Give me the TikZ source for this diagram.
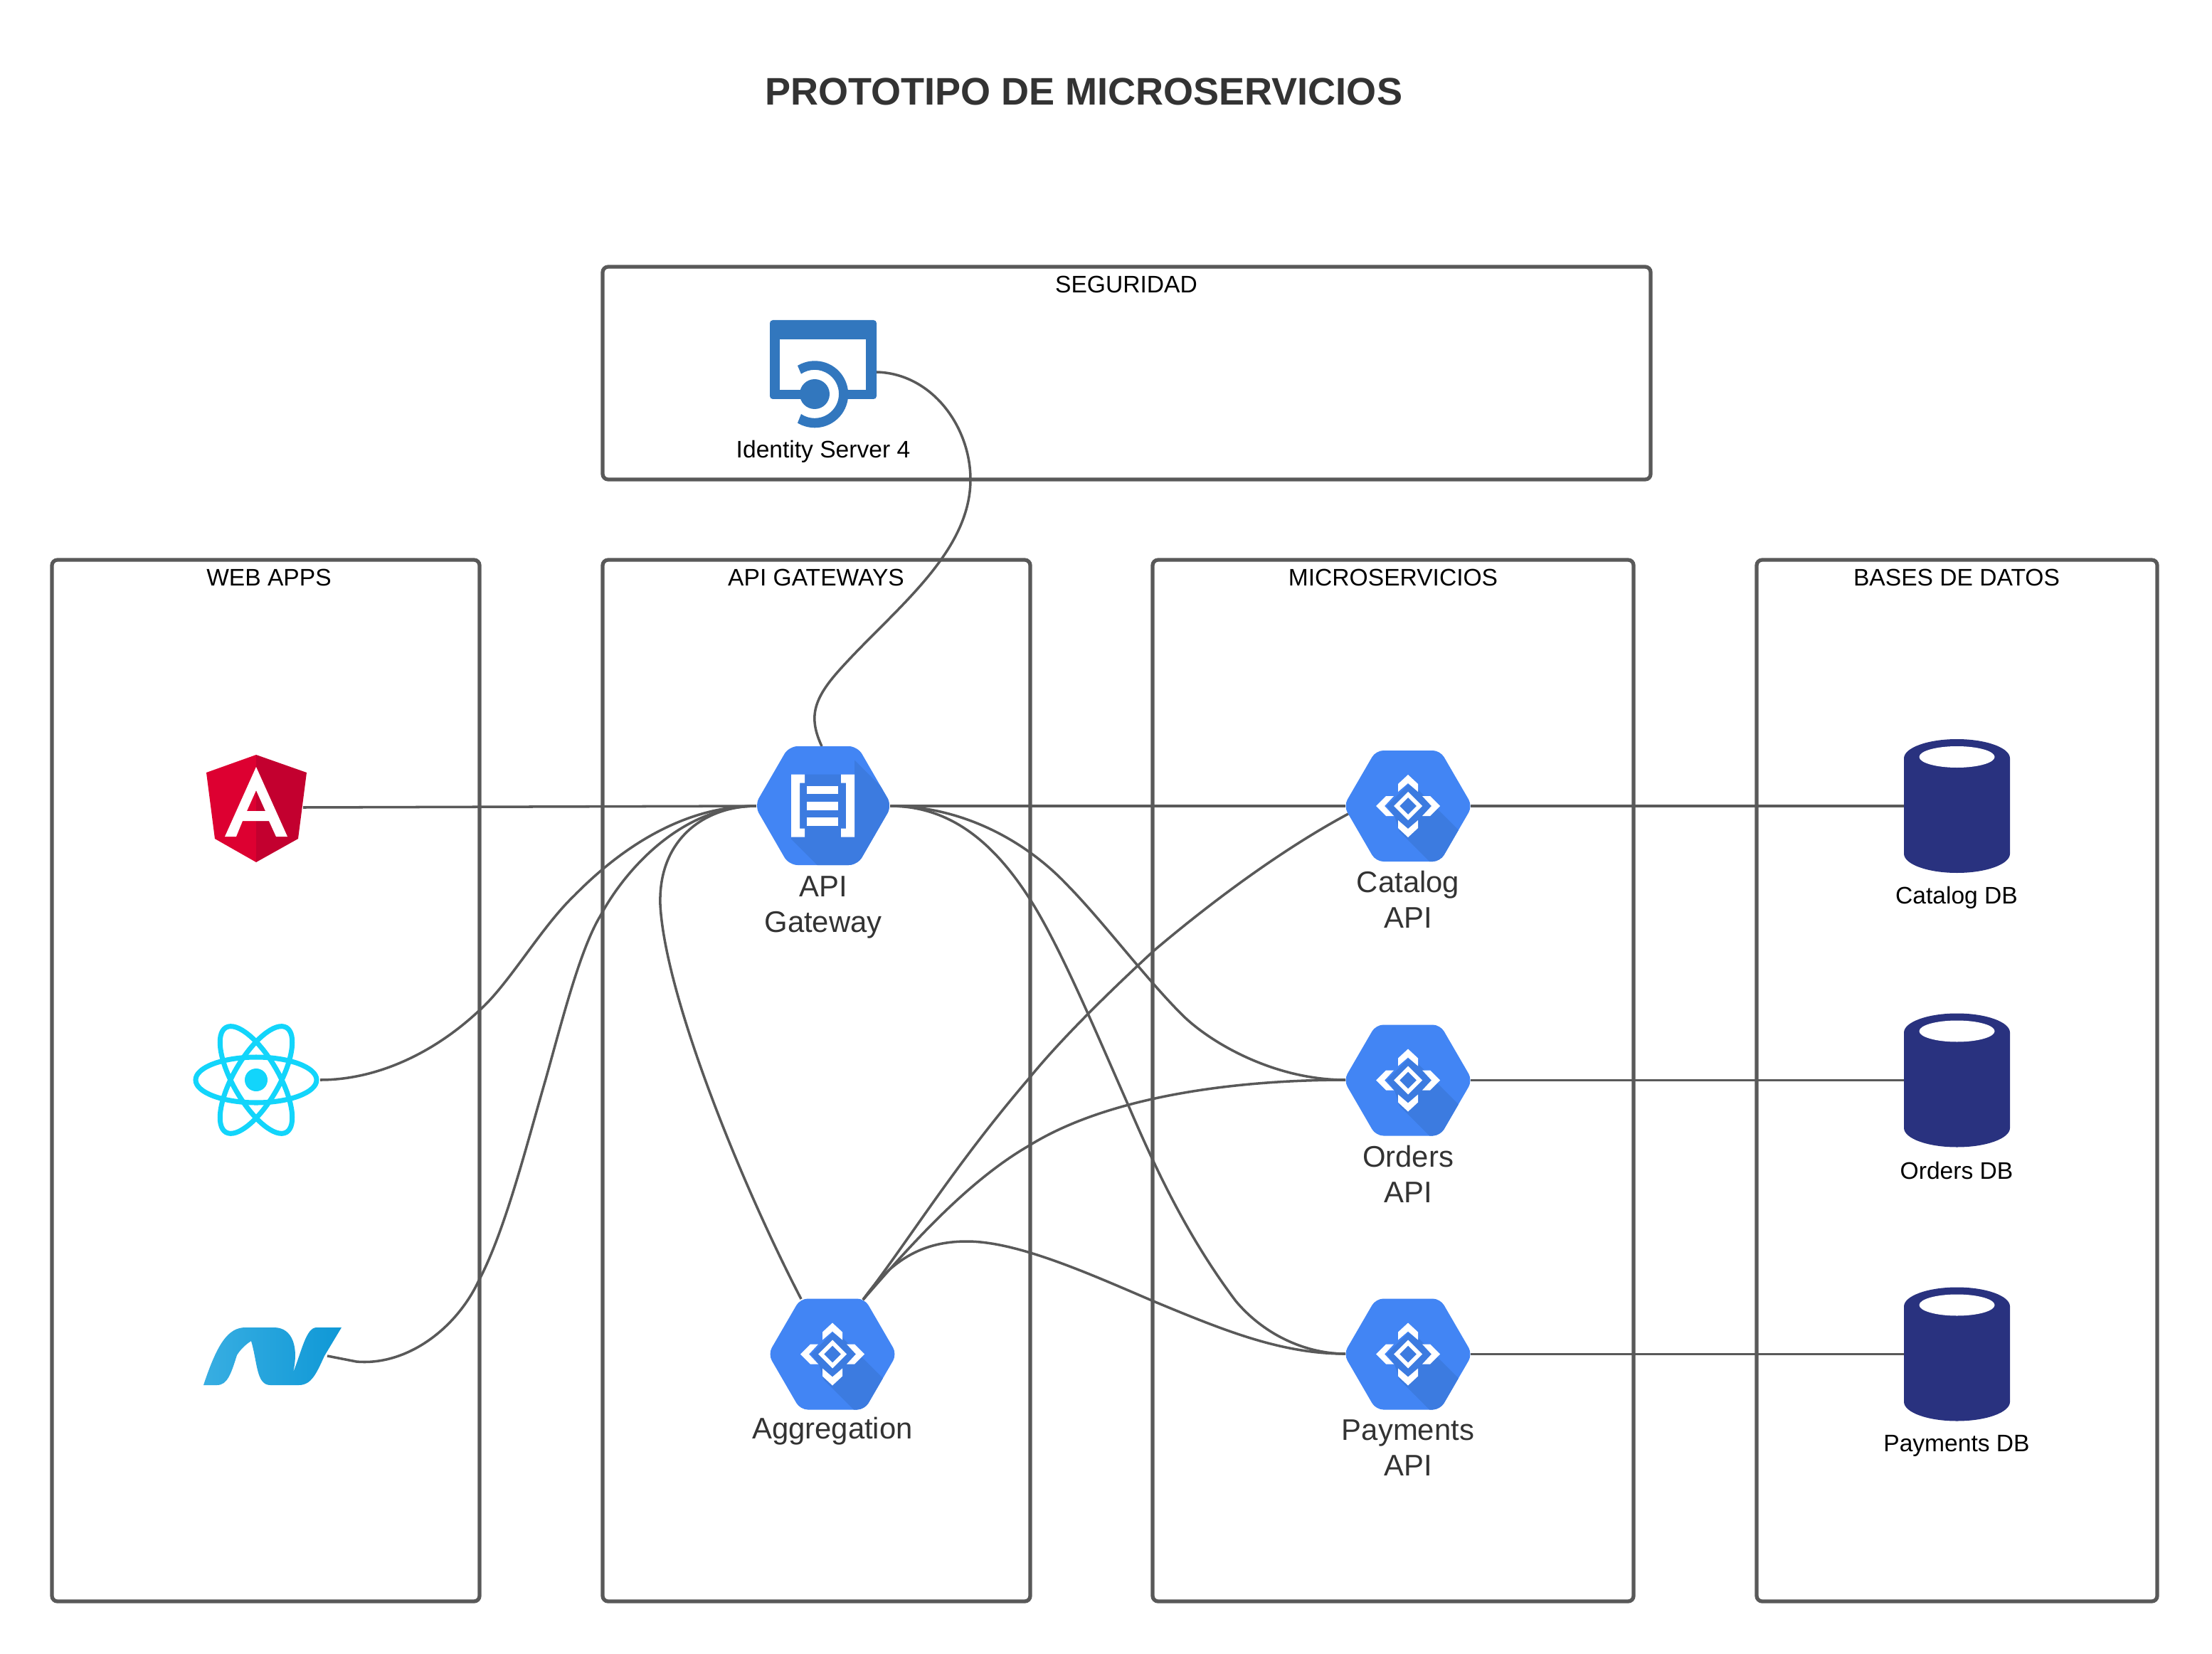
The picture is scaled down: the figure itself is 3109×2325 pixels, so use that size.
\documentclass[tikz,border=0pt]{standalone}
\usepackage{fontspec}
\setmainfont{Liberation Sans}
\definecolor{linegray}{HTML}{595959}
\definecolor{hexblue}{HTML}{4285F4}
\definecolor{hexdark}{HTML}{3C7BE0}
\definecolor{dbnavy}{HTML}{29327F}
\definecolor{idblue}{HTML}{3277BE}
\definecolor{ngred}{HTML}{DD0031}
\definecolor{ngdark}{HTML}{C3002F}
\definecolor{reactcy}{HTML}{12D5FB}
\definecolor{netlight}{HTML}{38AEE2}
\definecolor{netdark}{HTML}{0F98D6}
\definecolor{txtgray}{HTML}{333333}
\tikzset{
  groupbox/.style={draw=linegray,line width=1.5pt,rounded corners=2.2pt},
  grouplabel/.style={font=\fontsize{9.55}{11}\selectfont,text=black,inner sep=0pt},
  svclabel/.style={font=\fontsize{11.9}{14.2}\selectfont,text=txtgray,align=center,inner sep=0pt},
  dblabel/.style={font=\fontsize{9.55}{11}\selectfont,text=black,inner sep=0pt},
  link/.style={draw=linegray,line width=1pt},
}
\newcommand{\hexshape}[2]{(-#1,0) -- (-#1/2,-#2) -- (#1/2,-#2) -- (#1,0) -- (#1/2,#2) -- (-#1/2,#2) -- cycle}
% name, x, y : hexagon with the diamond-and-chevrons icon
\newcommand{\svchex}[3]{%
  \node[inner sep=0pt,outer sep=0pt,minimum width=1.76cm,minimum height=1.55cm] (#1) at (#2,#3) {};
  \begin{scope}[shift={(#2,#3)}]
    \fill[hexblue,rounded corners=3pt] \hexshape{90.5}{78};
    \begin{scope}
      \clip[rounded corners=3pt] \hexshape{90.5}{78};
      \fill[hexdark] (14,-23) -- (134,97) -- (108,156) -- (-12,36) -- (-19,14) -- (-30,0) -- (0,-30) -- cycle;
    \end{scope}
    \fill[white] (0,-44) -- (14,-31) -- (14,-20) -- (0,-32) -- (-14,-20) -- (-14,-31) -- cycle;
    \fill[white] (0,44) -- (14,31) -- (14,20) -- (0,32) -- (-14,20) -- (-14,31) -- cycle;
    \fill[white] (-45,0) -- (-31,-14) -- (-20,-14) -- (-33,0) -- (-20,14) -- (-31,14) -- cycle;
    \fill[white] (45,0) -- (31,-14) -- (20,-14) -- (33,0) -- (20,14) -- (31,14) -- cycle;
    \fill[white,even odd rule] (-20,0) -- (0,-20) -- (20,0) -- (0,20) -- cycle (-12,0) -- (0,-12) -- (12,0) -- (0,12) -- cycle;
  \end{scope}}
% name, y : database cylinder
\newcommand{\dbcyl}[2]{%
  \node[inner sep=0pt,outer sep=0pt,minimum width=1.49cm,minimum height=1.88cm] (#1) at (2750.5,#2) {};
  \begin{scope}[shift={(2750.5,#2)}]
    \fill[dbnavy] (-74.5,-67) arc[start angle=180,end angle=0,x radius=74.5,y radius=-27]
      -- (74.5,67) arc[start angle=0,end angle=-180,x radius=74.5,y radius=-27] -- cycle;
    \fill[white] (0,-69) ellipse[x radius=53,y radius=15];
  \end{scope}}
\begin{document}
\begin{tikzpicture}[x=0.01cm,y=-0.01cm]
\useasboundingbox (0,0) rectangle (3109,2325);
\fill[white] (0,0) rectangle (3109,2325);

\node[font=\bfseries\fontsize{15.37}{18}\selectfont,text=txtgray,inner sep=0pt] (title) at (1523,128.5) {PROTOTIPO DE MICROSERVICIOS};

% group frames
\draw[groupbox] (847,375) rectangle (2320,674);
\draw[groupbox] (73,787) rectangle (674,2251);
\draw[groupbox] (847,787) rectangle (1448,2251);
\draw[groupbox] (1620,787) rectangle (2296,2251);
\draw[groupbox] (2469,787) rectangle (3032,2251);
\node[grouplabel] (lsec) at (1583,399.5) {SEGURIDAD};
\node[grouplabel] (lweb) at (378,811.5) {WEB APPS};
\node[grouplabel] (lapi) at (1147,811.5) {API GATEWAYS};
\node[grouplabel] (lms) at (1958,811.5) {MICROSERVICIOS};
\node[grouplabel] (ldb) at (2750,811.5) {BASES DE DATOS};

% anchors of the icons
\node[inner sep=0pt,outer sep=0pt,minimum width=1.88cm,minimum height=1.67cm] (gateway) at (1157,1133) {};
\coordinate (idout) at (1232,523);
\coordinate (gwtop) at (1155,1049);
\coordinate (ngout) at (426,1135);
\coordinate (reactout) at (450,1518);
\coordinate (netout) at (460,1906);
\coordinate (agtopl) at (1126,1826);
\coordinate (agtopr) at (1213,1827);
\coordinate (catin) at (1895,1144);
\coordinate (catw) at (1891,1133);
\coordinate (ordw) at (1891,1518);
\coordinate (payw) at (1891,1903);

% connectors
\draw[link] (idout) .. controls (1310,525) and (1364,600) .. (1364,674)
  .. controls (1364,780) and (1252,860) .. (1177,945)
  .. controls (1142,985) and (1137,1010) .. (gwtop);
\draw[link] (ngout) -- (gateway.west);
\draw[link] (reactout) .. controls (530,1518) and (610,1480) .. (673,1421)
  .. controls (715,1384) and (760,1304) .. (807,1259)
  .. controls (860,1205) and (950,1133) .. (gateway.west);
\draw[link] (netout) -- (501,1914) .. controls (570,1920) and (640,1870) .. (673,1800)
  .. controls (710,1730) and (740,1610) .. (767,1517)
  .. controls (790,1435) and (815,1335) .. (844,1287)
  .. controls (880,1220) and (960,1133) .. (gateway.west);
\draw[link] (agtopl) .. controls (1040,1660) and (935,1400) .. (928,1272)
  .. controls (925,1180) and (990,1133) .. (gateway.west);
\draw[link] (gateway.east) -- (catw);
\draw[link] (gateway.east) .. controls (1350,1133) and (1440,1180) .. (1501,1245)
  .. controls (1550,1295) and (1610,1375) .. (1661,1426)
  .. controls (1700,1465) and (1790,1518) .. (ordw);
\draw[link] (gateway.east) .. controls (1340,1133) and (1400,1190) .. (1447,1263)
  .. controls (1490,1330) and (1540,1450) .. (1586,1554)
  .. controls (1625,1645) and (1670,1740) .. (1737,1829)
  .. controls (1780,1880) and (1840,1903) .. (payw);
\draw[link] (agtopr) .. controls (1280,1740) and (1340,1640) .. (1447,1515)
  .. controls (1500,1450) and (1580,1375) .. (1621,1337)
  .. controls (1700,1270) and (1800,1195) .. (catin);
\draw[link] (agtopr) .. controls (1280,1750) and (1360,1660) .. (1447,1610)
  .. controls (1560,1540) and (1740,1518) .. (ordw);
\draw[link] (agtopr) .. controls (1260,1760) and (1310,1745) .. (1359,1745)
  .. controls (1430,1745) and (1530,1790) .. (1621,1829)
  .. controls (1720,1870) and (1800,1903) .. (payw);

% service hexagons
\svchex{catalog}{1979}{1133}
\svchex{orders}{1979}{1518.5}
\svchex{payments}{1979}{1903.5}
\svchex{aggregation}{1170}{1903.5}

% databases
\dbcyl{catdb}{1133}
\dbcyl{orddb}{1518.5}
\dbcyl{paydb}{1903.5}
\draw[link] (catalog.east) -- (catdb.west);
\draw[link] (orders.east) -- (orddb.west);
\draw[link] (payments.east) -- (paydb.west);

% gateway hexagon
\begin{scope}[shift={(1157,1132.5)}]
  \fill[hexblue,rounded corners=3.5pt] \hexshape{96.5}{83.5};
  \begin{scope}
    \clip[rounded corners=3.5pt] \hexshape{96.5}{83.5};
    \fill[hexdark] (-30,-44) -- (44,-44) -- (44,-64) -- (200,92) -- (100,192) -- (-45,47) -- cycle;
  \end{scope}
  \fill[white] (-45,-44) -- (-26,-44) -- (-26,-32) -- (-33,-32) -- (-33,32) -- (-26,32) -- (-26,44) -- (-45,44) -- cycle;
  \fill[white] (44,-44) -- (25,-44) -- (25,-32) -- (32,-32) -- (32,32) -- (25,32) -- (25,44) -- (44,44) -- cycle;
  \fill[white] (-23,-28) rectangle (21,-17);
  \fill[white] (-23,-6) rectangle (21,6);
  \fill[white] (-23,16) rectangle (21,28);
\end{scope}

% identity server icon
\begin{scope}[shift={(1145,554)}]
  \fill[idblue,rounded corners=1.2pt] (-63,-104) rectangle (87,7);
  \fill[white] (-49,-77) rectangle (72,-6);
  \fill[white] (0,0) -- (-19,-33) arc[start angle=-120,end angle=120,radius=38] -- cycle;
  \fill[idblue] (-24,-40) arc[start angle=-121,end angle=121,radius=47]
    -- (-19,28) arc[start angle=124,end angle=-124,radius=34] -- cycle;
  \fill[idblue] (0,0) circle[radius=21];
\end{scope}

% angular logo
\fill[ngred] (360,1061) -- (290,1086) -- (302,1179) -- (360,1212) -- cycle;
\fill[ngdark] (360,1061) -- (431,1086) -- (419,1179) -- (360,1212) -- cycle;
\fill[white,even odd rule] (360,1078) -- (404,1176) -- (388,1176) -- (378,1154) -- (341,1154) -- (332,1176) -- (316,1176) -- cycle
  (360,1111) -- (347,1140) -- (373,1140) -- cycle;

% react logo
\begin{scope}[shift={(360,1518)}]
  \draw[reactcy,line width=2pt] (0,0) ellipse[x radius=85,y radius=32];
  \draw[reactcy,line width=2pt,rotate=60] (0,0) ellipse[x radius=85,y radius=32];
  \draw[reactcy,line width=2pt,rotate=120] (0,0) ellipse[x radius=85,y radius=32];
  \fill[reactcy] (0,0) circle[radius=16];
\end{scope}

% .NET logo
\shade[left color=netlight,right color=netdark]
  (286,1947) .. controls (305,1890) and (320,1866) .. (345,1866)
  -- (385,1866) .. controls (412,1866) and (420,1895) .. (412,1929)
  .. controls (424,1900) and (430,1866) .. (445,1866)
  -- (480,1866) -- (456,1906) .. controls (445,1930) and (438,1947) .. (420,1947)
  -- (380,1947) .. controls (360,1947) and (362,1915) .. (353,1885)
  .. controls (345,1890) and (337,1898) .. (333,1905)
  .. controls (325,1930) and (320,1947) .. (305,1947) -- cycle;

% texts
\node[svclabel] (tgw) at (1157,1275) {API\\Gateway};
\node[svclabel] (tcat) at (1979,1264) {Catalog\\API};
\node[svclabel] (tord) at (1979,1650) {Orders\\API};
\node[svclabel] (tpay) at (1979,2035) {Payments\\API};
\node[svclabel] (tagg) at (1170,2012) {Aggregation};
\node[dblabel] (tid) at (1157,635) {Identity Server 4};
\node[dblabel] (tcdb) at (2750,1262) {Catalog DB};
\node[dblabel] (todb) at (2750,1645) {Orders DB};
\node[dblabel] (tpdb) at (2750,2032) {Payments DB};
\end{tikzpicture}
\end{document}
